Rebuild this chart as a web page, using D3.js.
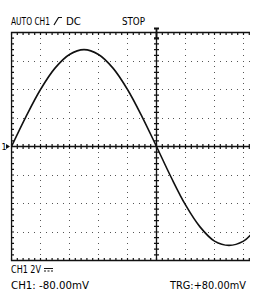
<!DOCTYPE html>
<html>
<head>
<meta charset="utf-8">
<script src="https://cdn.jsdelivr.net/npm/d3@7"></script>
<style>
  html, body { margin: 0; padding: 0; background: #fff; }
  svg { display: block; }
  text { font-family: "Liberation Sans Narrow", "DejaVu Sans Condensed", sans-serif; fill: #000; }
</style>
</head>
<body>
<div id="graphic"></div>
<script>
// waveform: x in divisions, y in volts (2 V/div)
const tDiv = [0, 0.5, 1, 1.5, 2, 2.5, 3, 3.5, 4, 4.5, 5, 5.5, 6, 6.5, 7, 7.5, 8, 8.25];
const volts = [0, 2.1, 4.0, 5.5, 6.46, 6.8, 6.46, 5.5, 4.0, 2.1, 0, -2.14, -4.1, -5.64, -6.64, -6.94, -6.64, -6.2];

const headerLabels = ["AUTO CH1", "DC", "STOP"];
const scaleLabel = "CH1 2V";
const offsetLabel = "CH1: -80.00mV";
const trigLabel = "TRG:+80.00mV";

const width = 253, height = 293;
const padL = 11.5, padT = 32.5, padR = 250, padB = 260.5;
const divW = 29;

const x = d3.scaleLinear().domain([0, 10]).range([padL, padL + 10 * divW]);
const y = d3.scaleLinear().domain([-8, 8]).range([padB, padT]);

const svg = d3.create("svg")
    .attr("width", width)
    .attr("height", height)
    .attr("viewBox", [0, 0, width, height]);

svg.append("defs").append("clipPath").attr("id", "screen")
    .append("rect")
    .attr("x", padL - 1).attr("y", padT - 3)
    .attr("width", padR - padL + 1).attr("height", padB - padT + 6);

const g = svg.append("g").attr("clip-path", "url(#screen)");

// dotted grid, one dot per minor step
const minorX = d3.range(0, 51, 1).map(i => i / 5);
const minorY = d3.range(-20, 21, 1).map(i => i * 0.4);
const majorX = [1, 2, 3, 4, 6, 7, 8, 9];
const majorY = [-6, -4, -2, 2, 4, 6];

const dots = [];
majorX.forEach(mx => minorY.forEach(v => dots.push([x(mx), y(v)])));
majorY.forEach(my => minorX.forEach(t => dots.push([x(t), y(my)])));
g.append("g").selectAll("rect")
    .data(dots)
    .join("rect")
    .attr("x", d => Math.floor(d[0]))
    .attr("y", d => Math.floor(d[1]))
    .attr("width", 1).attr("height", 1)
    .attr("shape-rendering", "crispEdges")
    .attr("fill", "#555");

// border
g.append("path")
    .attr("d", `M${padR + 5},${padT}H${padL}V${padB}H${padR + 5}`)
    .attr("fill", "none").attr("stroke", "#111").attr("stroke-width", 1.4);

// border ticks (inward)
const ticks = g.append("g").attr("stroke", "#111").attr("stroke-width", 1.2);
minorX.forEach(t => {
    ticks.append("line").attr("x1", x(t)).attr("x2", x(t)).attr("y1", padT).attr("y2", padT + 2.5);
    ticks.append("line").attr("x1", x(t)).attr("x2", x(t)).attr("y1", padB).attr("y2", padB - 2.5);
});
minorY.forEach(v => {
    ticks.append("line").attr("x1", padL).attr("x2", padL + 2.5).attr("y1", y(v)).attr("y2", y(v));
});

// centre axes with ticks on both sides
const axes = g.append("g").attr("stroke", "#111");
axes.append("line").attr("x1", padL).attr("x2", padR + 5).attr("y1", y(0)).attr("y2", y(0)).attr("stroke-width", 1.3);
axes.append("line").attr("x1", x(5)).attr("x2", x(5)).attr("y1", padT).attr("y2", padB).attr("stroke-width", 1.3);
minorX.forEach(t => {
    axes.append("line").attr("x1", x(t)).attr("x2", x(t)).attr("y1", y(0) - 2.5).attr("y2", y(0) + 2.5).attr("stroke-width", 1.2);
});
minorY.forEach(v => {
    axes.append("line").attr("x1", x(5) - 2.5).attr("x2", x(5) + 2.5).attr("y1", y(v)).attr("y2", y(v)).attr("stroke-width", 1.2);
});

// waveform
const line = d3.line()
    .x((d, i) => x(tDiv[i]))
    .y(d => y(d))
    .curve(d3.curveCatmullRom);
g.append("path")
    .datum(volts)
    .attr("d", line)
    .attr("fill", "none")
    .attr("stroke", "#111")
    .attr("stroke-width", 1.6);

// trigger position marker
const tx = x(5);
svg.append("path")
    .attr("d", `M${tx - 2.5},28.5H${tx + 2.5}M${tx},28.5V38.5M${tx - 2.5},38.5H${tx + 2.5}`)
    .attr("stroke", "#111").attr("stroke-width", 1.8).attr("fill", "none");

// channel 1 ground marker
svg.append("text").attr("x", 1.5).attr("y", y(0) + 3.5)
    .style("font-size", "9px").text("1");
svg.append("path")
    .attr("d", `M6,${y(0) - 2.5}L10,${y(0)}L6,${y(0) + 2.5}Z`)
    .attr("fill", "#111");

// header
svg.append("text").attr("x", 11).attr("y", 25)
    .style("font-size", "11px")
    .attr("textLength", 39).attr("lengthAdjust", "spacingAndGlyphs")
    .text(headerLabels[0]);
svg.append("path")
    .attr("d", "M54,25L58.5,17.5H62")
    .attr("fill", "none").attr("stroke", "#111").attr("stroke-width", 1.2);
svg.append("text").attr("x", 66).attr("y", 25)
    .style("font-size", "11px")
    .attr("textLength", 15).attr("lengthAdjust", "spacingAndGlyphs")
    .text(headerLabels[1]);
svg.append("text").attr("x", 122).attr("y", 25)
    .style("font-size", "11px")
    .attr("textLength", 23).attr("lengthAdjust", "spacingAndGlyphs")
    .text(headerLabels[2]);

// footer
svg.append("text").attr("x", 11).attr("y", 273)
    .style("font-size", "11px")
    .attr("textLength", 30).attr("lengthAdjust", "spacingAndGlyphs")
    .text(scaleLabel);
svg.append("path")
    .attr("d", "M44,268.5H53")
    .attr("stroke", "#111").attr("stroke-width", 1);
svg.append("path")
    .attr("d", "M44,271H53")
    .attr("stroke", "#111").attr("stroke-width", 1).attr("stroke-dasharray", "2,1.5");
svg.append("text").attr("x", 11).attr("y", 289)
    .style("font-size", "11px")
    .attr("textLength", 78).attr("lengthAdjust", "spacingAndGlyphs")
    .text(offsetLabel);
svg.append("text").attr("x", 170).attr("y", 289)
    .style("font-size", "11px")
    .attr("textLength", 76).attr("lengthAdjust", "spacingAndGlyphs")
    .text(trigLabel);

document.getElementById("graphic").append(svg.node());
</script>
</body>
</html>
